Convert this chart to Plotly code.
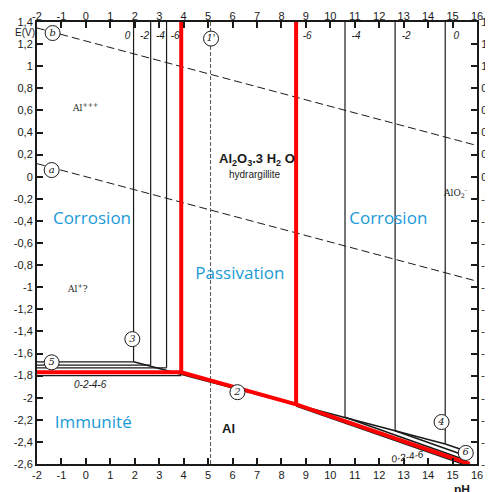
import plotly.graph_objects as go

# ---- axis ticks ----
ph_ticks = list(range(-2, 17))
e_ticks = [1.4, 1.2, 1.0, 0.8, 0.6, 0.4, 0.2, 0.0, -0.2, -0.4, -0.6, -0.8, -1.0,
           -1.2, -1.4, -1.6, -1.8, -2.0, -2.2, -2.4, -2.6]
e_labels = ["1,4", "1,2", "1", "0,8", "0,6", "0,4", "0,2", "0", "-0,2", "-0,4", "-0,6",
            "-0,8", "-1", "-1,2", "-1,4", "-1,6", "-1,8", "-2", "-2,2", "-2,4", "-2,6"]

# ---- water lines (dashed) ----
line_b_ph = [-2, 16]
line_b_e = [1.346, 0.282]
line_a_ph = [-2, 16]
line_a_e = [0.118, -0.946]

# ---- Al3+ / hydrargillite verticals (log conc 0,-2,-4,-6) ----
left_conc = ["0", "-2", "-4", "-6"]
left_ph = [1.95, 2.65, 3.3, 3.9]
left_bottom_e = [-1.675, -1.705, -1.73, -1.77]
# ---- hydrargillite / AlO2- verticals ----
right_conc = ["-6", "-4", "-2", "0"]
right_ph = [8.6, 10.6, 12.65, 14.7]
right_bottom_e = [-2.058, -2.176, -2.298, -2.419]

# ---- Al / Al3+ horizontals ----
horiz_e = [-1.675, -1.705, -1.73, -1.80]
horiz_end_ph = [1.95, 2.65, 3.3, 3.9]

# ---- Al / hydrargillite line ----
al_oxide_ph = [1.95, 14.7]
al_oxide_e = [-1.675, -2.419]

# ---- Al / AlO2- lines ----
alo2_start_ph = [10.6, 12.65, 14.7]
alo2_start_e = [-2.176, -2.298, -2.419]
alo2_end_ph = [15.5, 15.45, 15.4]
alo2_end_e = [-2.562, -2.519, -2.47]

# ---- line 1' ----
line1p_ph = [5.1, 5.1]
line1p_e = [1.4, -2.6]

# ---- red boundaries ----
red_bottom_ph = [-2.1, 3.9, 8.6, 15.7]
red_bottom_e = [-1.77, -1.77, -2.06, -2.6]
red_v1_ph = [3.9, 3.9]
red_v1_e = [1.43, -1.77]
red_v2_ph = [8.6, 8.6]
red_v2_e = [1.43, -2.06]

# ---- circled labels ----
circ_txt = ["b", "a", "1'", "3", "5", "2", "4", "6"]
circ_ph = [-1.36, -1.4, 5.12, 1.9, -1.4, 6.2, 14.55, 15.54]
circ_e = [1.30, 0.06, 1.25, -1.47, -1.68, -1.95, -2.22, -2.50]

# ---- region labels ----
zone_txt = ["Corrosion", "Passivation", "Corrosion", "Immunité"]
zone_ph = [0.25, 6.3, 12.37, 0.3]
zone_e = [-0.39, -0.89, -0.39, -2.24]

fig = go.Figure()
BLK = "#1a1a1a"

def add_line(xs, ys, color=BLK, width=1.2, dash="solid"):
    fig.add_trace(go.Scatter(x=xs, y=ys, mode="lines", cliponaxis=False,
                             line=dict(color=color, width=width, dash=dash),
                             hoverinfo="skip", showlegend=False))

add_line(line_b_ph, line_b_e, width=1, dash="8px,4px")
add_line(line_a_ph, line_a_e, width=1, dash="8px,4px")
add_line(line1p_ph, line1p_e, color="#555", width=1, dash="4px,2px")

for p, e in zip(left_ph, left_bottom_e):
    add_line([p, p], [1.4, e])
for p, e in zip(right_ph, right_bottom_e):
    add_line([p, p], [1.4, e])
for e, p in zip(horiz_e, horiz_end_ph):
    add_line([-2, p], [e, e])
add_line(al_oxide_ph, al_oxide_e, width=1.6)
for x0, y0, x1, y1 in zip(alo2_start_ph, alo2_start_e, alo2_end_ph, alo2_end_e):
    add_line([x0, x1], [y0, y1], width=1.6)
add_line([8.6, 15.8], [-2.075, -2.63], width=1.4)

# red
add_line(red_bottom_ph, red_bottom_e, color="#ff0000", width=4)
add_line(red_v1_ph, red_v1_e, color="#ff0000", width=4)
add_line(red_v2_ph, red_v2_e, color="#ff0000", width=4)

# circles
fig.add_trace(go.Scatter(x=circ_ph, y=circ_e, mode="markers+text", text=circ_txt,
                         textposition="middle center", cliponaxis=False,
                         marker=dict(symbol="circle", size=15, color="white",
                                     line=dict(color=BLK, width=1)),
                         textfont=dict(family="DejaVu Serif", size=10, color=BLK, style="italic"),
                         hoverinfo="skip", showlegend=False))

# concentration labels near top
fig.add_trace(go.Scatter(x=[p - 0.25 for p in left_ph], y=[1.265] * 4, mode="text",
                         text=left_conc, textposition="middle center",
                         textfont=dict(family="Liberation Sans", size=10, color=BLK, style="italic"),
                         hoverinfo="skip", showlegend=False))
fig.add_trace(go.Scatter(x=[p + 0.45 for p in right_ph], y=[1.265] * 4, mode="text",
                         text=right_conc, textposition="middle center",
                         textfont=dict(family="Liberation Sans", size=10, color=BLK, style="italic"),
                         hoverinfo="skip", showlegend=False))

# zone labels
fig.add_trace(go.Scatter(x=zone_ph, y=zone_e, mode="text", text=zone_txt,
                         textposition="middle center",
                         textfont=dict(family="Open Sans", size=17, color="#1a9ad7"),
                         hoverinfo="skip", showlegend=False))

# dummy trace for secondary axes
fig.add_trace(go.Scatter(x=[-2], y=[-2.6], xaxis="x2", yaxis="y2", mode="markers",
                         marker=dict(opacity=0), hoverinfo="skip", showlegend=False))

ann = [
    dict(x=7.0, y=0.16, text="<b>Al<sub>2</sub>O<sub>3</sub>.3 H<sub>2</sub> O</b>", font=dict(size=13, family="Liberation Sans")),
    dict(x=6.9, y=0.02, text="hydrargillite", font=dict(size=10, family="Liberation Sans")),
    dict(x=15.1, y=-0.14, text="AlO<sub>2</sub><sup>-</sup>", font=dict(size=9, family="DejaVu Serif")),
    dict(x=-0.03, y=0.63, text="Al<sup>+++</sup>", font=dict(size=9, family="DejaVu Serif")),
    dict(x=-0.36, y=-1.01, text="Al<sup>+</sup>?", font=dict(size=9, family="DejaVu Serif")),
    dict(x=5.85, y=-2.28, text="<b>Al</b>", font=dict(size=13, family="Liberation Sans")),
    dict(x=0.2, y=-1.885, text="<i>0-2-4-6</i>", font=dict(size=10, family="Liberation Sans")),
    dict(x=13.15, y=-2.53, text="<i>0-2-4-6</i>", font=dict(size=10, family="Liberation Sans"), textangle=-10),
]
annotations = []
for a in ann:
    d = dict(xref="x", yref="y", showarrow=False, font=dict(color=BLK, **a.pop("font")))
    d.update(a)
    annotations.append(d)
annotations.append(dict(xref="paper", yref="paper", x=0.966, y=-0.038, xanchor="center", yanchor="top",
                        text="<b>pH</b>", showarrow=False, font=dict(size=12, color=BLK, family="Liberation Sans")))
annotations.append(dict(xref="paper", yref="paper", x=-0.027, y=0.977, xanchor="center", yanchor="middle",
                        text="E(V)", showarrow=False, font=dict(size=10, color=BLK, family="Liberation Sans")))

axis_common = dict(showgrid=False, zeroline=False, showline=True, linecolor=BLK, linewidth=2,
                   ticks="inside", ticklen=6, tickwidth=1.5, tickcolor=BLK, automargin=False,
                   ticklabeloverflow="allow",
                   tickfont=dict(family="Liberation Sans", size=11, color=BLK))

# page body has an 8px default margin: margins compensate so the plot box sits where the reference's does
fig.update_layout(
    width=493, height=492,
    margin=dict(l=29, r=24, t=14, b=36, autoexpand=False),
    paper_bgcolor="white", plot_bgcolor="white",
    xaxis=dict(range=[-2, 16], tickvals=ph_ticks, ticktext=[str(v) for v in ph_ticks], **axis_common),
    xaxis2=dict(range=[-2, 16], overlaying="x", side="top", tickvals=ph_ticks,
                ticktext=[str(v) for v in ph_ticks], ticklabelstandoff=-4, **axis_common),
    yaxis=dict(range=[-2.6, 1.4], tickvals=e_ticks, ticktext=e_labels, **axis_common),
    yaxis2=dict(range=[-2.6, 1.4], overlaying="y", side="right", tickvals=e_ticks,
                ticktext=e_labels, **axis_common),
    annotations=annotations,
)

fig.write_html("out.html")
